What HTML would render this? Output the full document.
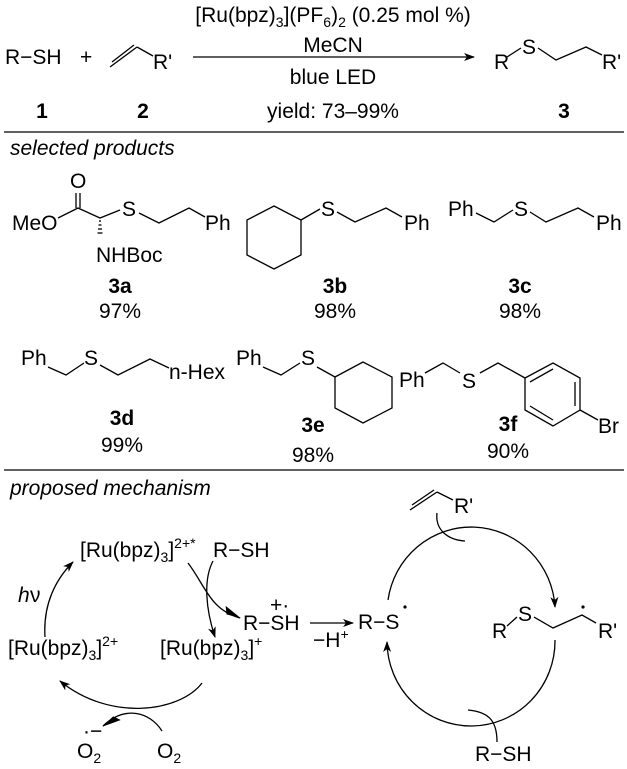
<!DOCTYPE html>
<html><head><meta charset="utf-8"><style>
html,body{margin:0;padding:0;background:#fff}
svg{display:block}
text{font-family:"Liberation Sans",sans-serif;font-size:21px;fill:#000}
.b{font-weight:bold}
.i{font-style:italic}
line,path,polyline,polygon{stroke:#000;stroke-width:1.3;fill:none}
</style></head><body>
<svg width="627" height="769" viewBox="0 0 627 769" xmlns="http://www.w3.org/2000/svg">
<defs>
<marker id="ar" markerWidth="11" markerHeight="8" refX="10" refY="4" orient="auto" markerUnits="userSpaceOnUse"><path d="M0,0 L11,4 L0,8 L3,4 Z" style="fill:#000;stroke:none"/></marker>
<marker id="half" markerWidth="18" markerHeight="10" refX="17" refY="8" orient="auto" markerUnits="userSpaceOnUse"><path d="M0,0 L18,8 L3,8 Z" style="fill:#000;stroke:none"/></marker>
</defs>

<!-- top reaction -->
<text x="333" y="22" text-anchor="middle">[Ru(bpz)<tspan font-size="14" dy="5">3</tspan><tspan dy="-5">](PF</tspan><tspan font-size="14" dy="5">6</tspan><tspan dy="-5">)</tspan><tspan font-size="14" dy="5">2</tspan><tspan dy="-5"> (0.25 mol %)</tspan></text>
<text x="5" y="64">R−SH</text>
<text x="80" y="64">+</text>
<line x1="110" y1="67" x2="137" y2="47"/><line x1="112" y1="62" x2="134" y2="45"/>
<line x1="137" y1="47" x2="153" y2="56"/>
<text x="153" y="69">R'</text>
<line x1="193" y1="57" x2="474" y2="57" marker-end="url(#ar)"/>
<text x="333" y="52" text-anchor="middle">MeCN</text>
<text x="333" y="84" text-anchor="middle">blue LED</text>
<text x="333" y="118" text-anchor="middle">yield: 73–99%</text>
<text x="42" y="118" class="b" text-anchor="middle">1</text>
<text x="143" y="118" class="b" text-anchor="middle">2</text>
<text x="564" y="118" class="b" text-anchor="middle">3</text>
<text x="494" y="69">R</text>
<text x="522" y="54">S</text>
<polyline points="507,57 521,48"/>
<polyline points="538,48 556,60 586,47 602,55"/>
<text x="602" y="69">R'</text>
<line x1="4" y1="132" x2="624" y2="132"/>
<text x="10" y="155" class="i">selected products</text>

<!-- 3a -->
<text x="70" y="188">O</text>
<line x1="76" y1="193" x2="76" y2="208"/><line x1="80" y1="193" x2="80" y2="208"/>
<text x="12" y="230">MeO</text>
<polyline points="58,218 78,208 100,218 120,210"/>
<text x="122" y="216">S</text>
<polyline points="139,213 159,223 189,208 205,217"/>
<text x="205" y="230">Ph</text>
<g stroke="#000" stroke-width="1">
<line x1="99" y1="221" x2="101" y2="221"/><line x1="98.5" y1="225" x2="101.5" y2="225"/><line x1="98" y1="229" x2="102" y2="229"/><line x1="97.5" y1="233" x2="102.5" y2="233"/>
</g>
<text x="96" y="262">NHBoc</text>
<text x="120" y="293" class="b" text-anchor="middle">3a</text>
<text x="120" y="318" text-anchor="middle">97%</text>

<!-- 3b -->
<polygon points="274,206 301,220 301,255 274,269 247,255 247,220"/>
<line x1="301" y1="220" x2="320" y2="209"/>
<text x="321" y="216">S</text>
<polyline points="337,212 355,222 386,208 402,217"/>
<text x="404" y="230">Ph</text>
<text x="335" y="293" class="b" text-anchor="middle">3b</text>
<text x="335" y="318" text-anchor="middle">98%</text>

<!-- 3c -->
<text x="448" y="216">Ph</text>
<polyline points="476,213 494,222 513,210"/>
<text x="514" y="216">S</text>
<polyline points="530,212 546,222 578,208 594,217"/>
<text x="596" y="230">Ph</text>
<text x="520" y="293" class="b" text-anchor="middle">3c</text>
<text x="520" y="318" text-anchor="middle">98%</text>

<!-- 3d -->
<text x="21" y="365">Ph</text>
<polyline points="48,367 66,375 84,363"/>
<text x="84" y="365">S</text>
<polyline points="100,365 118,375 150,359 169,368"/>
<text x="169" y="379">n-Hex</text>
<text x="122" y="425" class="b" text-anchor="middle">3d</text>
<text x="122" y="452" text-anchor="middle">99%</text>

<!-- 3e -->
<text x="236" y="365">Ph</text>
<polyline points="263,367 281,375 300,363"/>
<text x="301" y="365">S</text>
<line x1="317" y1="367" x2="335" y2="377"/>
<polygon points="335,377 363,362 392,377 392,408 363,423 335,408"/>
<text x="313" y="432" class="b" text-anchor="middle">3e</text>
<text x="313" y="462" text-anchor="middle">98%</text>

<!-- 3f -->
<text x="399" y="387">Ph</text>
<polyline points="425,373 443,363 460,373"/>
<text x="462" y="388">S</text>
<polyline points="480,373 498,363 525,378"/>
<polygon points="525,378 553,363 580,378 580,410 553,426 525,410"/>
<line x1="530" y1="382" x2="553" y2="369"/>
<line x1="575" y1="382" x2="575" y2="406"/>
<line x1="530" y1="406" x2="553" y2="420"/>
<line x1="580" y1="410" x2="598" y2="420"/>
<text x="598" y="433">Br</text>
<text x="508" y="431" class="b" text-anchor="middle">3f</text>
<text x="508" y="458" text-anchor="middle">90%</text>

<line x1="4" y1="470" x2="624" y2="470"/>
<text x="10" y="495" class="i">proposed mechanism</text>

<!-- left cycle -->
<text x="80" y="557">[Ru(bpz)<tspan font-size="14" dy="5">3</tspan><tspan dy="-5">]</tspan><tspan font-size="14" dy="-9">2+*</tspan></text>
<text x="213" y="557">R−SH</text>
<text x="18" y="602" class="i">h</text><text x="30" y="602">ν</text>
<path d="M45,637 C43,605 55,580 73,562" marker-end="url(#ar)"/>
<text x="8" y="655">[Ru(bpz)<tspan font-size="14" dy="5">3</tspan><tspan dy="-5">]</tspan><tspan font-size="14" dy="-9">2+</tspan></text>
<text x="160" y="655">[Ru(bpz)<tspan font-size="14" dy="5">3</tspan><tspan dy="-5">]</tspan><tspan font-size="14" dy="-9">+</tspan></text>
<path d="M188,563 C205,585 210,610 240,618" marker-end="url(#half)"/>
<path d="M213,561 C203,580 206,610 215,637" marker-end="url(#ar)"/>
<text x="243" y="630">R−SH</text>
<text x="270" y="612" font-size="14">+·</text>
<path d="M202,683 C180,712 110,722 60,681" marker-end="url(#ar)"/>
<path d="M162,731 C150,712 125,705 103,726" marker-end="url(#half)"/>
<text x="77" y="758">O<tspan font-size="14" dy="5">2</tspan></text>
<text x="83" y="738" font-size="14">·−</text>
<text x="157" y="758">O<tspan font-size="14" dy="5">2</tspan></text>

<!-- middle -->
<line x1="310" y1="623" x2="353" y2="623" marker-end="url(#ar)"/>
<text x="313" y="647">−H<tspan font-size="14" dy="-8">+</tspan></text>
<text x="358" y="629">R−S</text>
<circle cx="405" cy="607" r="1.6" fill="#000"/>

<!-- right cycle -->
<path d="M388,600 A84,85 0 0 1 555,607" marker-end="url(#ar)"/>
<path d="M555,640 A84,85 0 0 1 387,642" marker-end="url(#ar)"/>
<line x1="410" y1="510" x2="437" y2="492"/><line x1="412" y1="505" x2="434" y2="490"/>
<line x1="437" y1="492" x2="453" y2="500"/>
<text x="454" y="513">R'</text>
<path d="M437,513 C435,530 448,540 465,541"/>
<text x="492" y="638">R</text>
<text x="518" y="621">S</text>
<line x1="507" y1="626" x2="517" y2="617"/>
<polyline points="534,617 553,628 582,615 596,623"/>
<circle cx="583" cy="607" r="1.6" fill="#000"/>
<text x="598" y="638">R'</text>
<path d="M497,742 C497,722 490,712 468,710"/>
<text x="475" y="761">R−SH</text>
</svg>
</body></html>
